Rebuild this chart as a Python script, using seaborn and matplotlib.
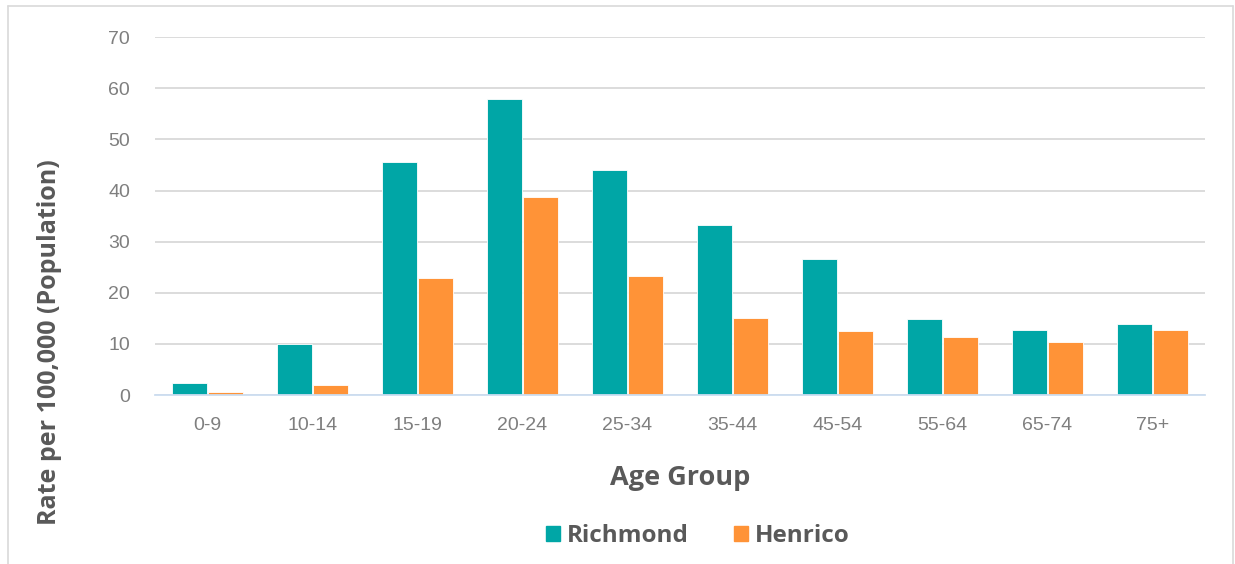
import numpy as np
import pandas as pd
import matplotlib
matplotlib.use("Agg")
import matplotlib.pyplot as plt
from matplotlib.lines import Line2D
import seaborn as sns

# --- data ---
age_groups = ["0-9", "10-14", "15-19", "20-24", "25-34", "35-44", "45-54", "55-64", "65-74", "75+"]
richmond = [2.4, 9.9, 45.5, 58.0, 44.0, 33.3, 26.7, 14.8, 12.7, 13.9]
henrico = [0.5, 1.9, 22.8, 38.8, 23.3, 15.0, 12.6, 11.3, 10.3, 12.7]
series_names = ["Richmond", "Henrico"]
y_ticks = [0, 10, 20, 30, 40, 50, 60, 70]

COLORS = {"Richmond": "#00A6A6", "Henrico": "#FF9337"}
TEXT_DARK = "#595959"
TEXT_TICK = "#7F7F7F"
BOLD_FONT = ["Open Sans", "DejaVu Sans"]

df = pd.DataFrame({
    "age": age_groups * 2,
    "rate": richmond + henrico,
    "area": [series_names[0]] * len(age_groups) + [series_names[1]] * len(age_groups),
})

sns.set_theme(style="white")
plt.rcParams["font.family"] = ["Liberation Sans", "DejaVu Sans"]

fig = plt.figure(figsize=(12.35, 5.64), dpi=100)
ax = fig.add_axes([0.1255, 0.2996, 0.8502, 0.6344])

sns.barplot(data=df, x="age", y="rate", hue="area", order=age_groups,
            hue_order=series_names, palette=COLORS, saturation=1,
            width=0.69, gap=0.04, edgecolor="white", linewidth=0.6,
            legend=False, ax=ax, zorder=3)

ax.set_ylim(0, 70)
ax.set_yticks(y_ticks)
ax.set_xlim(-0.5, len(age_groups) - 0.5)
ax.yaxis.grid(True, color="#D9D9D9", linewidth=1.3, zorder=0)
for s in ["top", "right", "left"]:
    ax.spines[s].set_visible(False)
ax.spines["bottom"].set_color("#CCDDF0")
ax.spines["bottom"].set_linewidth(1.3)
ax.spines["bottom"].set_zorder(4)
ax.tick_params(axis="both", length=0, labelsize=14, labelcolor=TEXT_TICK)
ax.tick_params(axis="y", pad=18)
ax.tick_params(axis="x", pad=16)

ax.set_xlabel("Age Group", fontsize=19.5, fontweight="bold", color=TEXT_DARK,
              family=BOLD_FONT, labelpad=22)
ax.set_ylabel("Rate per 100,000 (Population)", fontsize=18, fontweight="bold",
              color=TEXT_DARK, family=BOLD_FONT)
ax.yaxis.set_label_coords(-0.1, 0.148, transform=ax.transAxes)
ax.yaxis.label.set_va("center")
ax.yaxis.label.set_ha("center")

handles = [plt.Rectangle((0, 0), 1, 1, color=COLORS[n]) for n in series_names]
fig.legend(handles, series_names, loc="center", bbox_to_anchor=(0.565, 0.05),
           ncol=2, frameon=False, handlelength=0.58, handleheight=0.58,
           handletextpad=0.3, columnspacing=1.85,
           prop={"family": BOLD_FONT, "weight": "bold", "size": 17.5})
for t in fig.legends[0].get_texts():
    t.set_color(TEXT_DARK)

# thin outer chart border (left, top, right)
border = "#D9D9D9"
fig.add_artist(Line2D([8 / 1235, 8 / 1235], [0, 1 - 6 / 564], color=border, lw=1.2))
fig.add_artist(Line2D([8 / 1235, 1233 / 1235], [1 - 6 / 564, 1 - 6 / 564], color=border, lw=1.2))
fig.add_artist(Line2D([1233 / 1235, 1233 / 1235], [0, 1 - 6 / 564], color=border, lw=1.2))

fig.savefig("out.png", dpi=100, facecolor="white")
plt.close(fig)
